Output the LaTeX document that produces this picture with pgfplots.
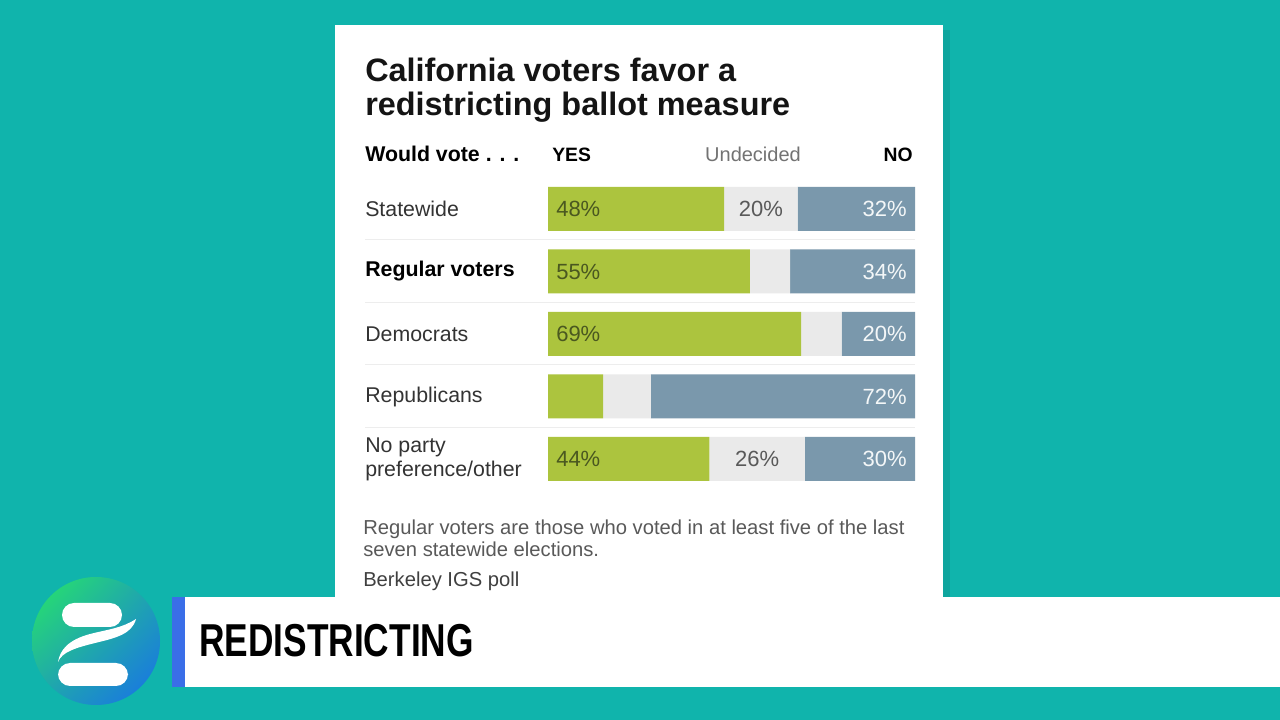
\documentclass[border=0pt]{standalone}
\usepackage{fontspec}
\setmainfont{Liberation Sans}
\usepackage{graphicx}
\usepackage{pgfplots}
\pgfplotsset{compat=1.18}
\usetikzlibrary{shadings}

\definecolor{bgteal}{RGB}{16,180,172}
\definecolor{yesgreen}{RGB}{172,196,62}
\definecolor{undgray}{RGB}{234,234,234}
\definecolor{noblue}{RGB}{122,152,172}
\definecolor{yestext}{RGB}{74,88,32}
\definecolor{stripe}{RGB}{58,110,232}
\definecolor{logogreen}{RGB}{40,232,100}
\definecolor{logoblue}{RGB}{24,110,236}

% 1 px of the reference = 0.75pt
\pgfplotsset{
  rowaxis/.style={
    at={(411pt,406.6875pt)}, anchor=north west,
    scale only axis, width=275.25pt, height=234.375pt,
    xmin=0, xmax=100, ymin=-0.5, ymax=4.5, y dir=reverse,
  },
}

\begin{document}
\begin{tikzpicture}
\begin{scope}[x=0.75pt,y=0.75pt]
  % background and card
  \fill[bgteal] (0,0) rectangle (1280,720);
  \fill[black,opacity=0.08] (341,118) rectangle (950,690);
  \fill[white] (335,120) rectangle (943,695);
  % title
  \node[anchor=base west, inner sep=0, text=black!92,
        font=\fontsize{24.3}{29}\selectfont\bfseries] at (365,638) {California voters favor a};
  \node[anchor=base west, inner sep=0, text=black!92,
        font=\fontsize{24.3}{29}\selectfont\bfseries] at (365,604) {redistricting ballot measure};
  % column heads
  \node[anchor=base west, inner sep=0, font=\fontsize{16}{18}\selectfont\bfseries] at (365,558) {Would vote . . .};
  \node[anchor=base west, inner sep=0, font=\fontsize{14.5}{16}\selectfont\bfseries] at (552,558) {YES};
  \node[anchor=base, inner sep=0, text=black!55, font=\fontsize{15}{17}\selectfont] at (753,558) {Undecided};
  \node[anchor=base east, inner sep=0, font=\fontsize{14.5}{16}\selectfont\bfseries] at (913,558) {NO};
  % row rules
  \foreach \yy in {480,417.5,355,292.5}
    \draw[black!7, line width=0.75pt] (365,\yy) -- (915,\yy);
  % notes
  \node[anchor=base west, inner sep=0, text=black!65, font=\fontsize{15.15}{17}\selectfont] at (363,185)
    {Regular voters are those who voted in at least five of the last};
  \node[anchor=base west, inner sep=0, text=black!65, font=\fontsize{15.15}{17}\selectfont] at (363,163)
    {seven statewide elections.};
  \node[anchor=base west, inner sep=0, text=black!75, font=\fontsize{15.15}{17}\selectfont] at (363,133)
    {Berkeley IGS poll};
\end{scope}

\begin{axis}[
  rowaxis,
  xbar stacked,
  bar width=33pt,
  axis line style={draw=none},
  xtick=\empty,
  ytick={0,1,2,3,4},
  yticklabels={Statewide, {\bfseries\color{black}Regular voters}, Democrats, Republicans, {No party\\preference/other}},
  yticklabel style={anchor=west, xshift=-137.25pt, inner sep=0pt, align=left,
    font=\fontsize{16}{18}\selectfont, text=black!80},
  major tick length=0pt,
]
\addplot[fill=yesgreen, draw=none] coordinates {(48,0) (55,1) (69,2) (15,3) (44,4)};
\addplot[fill=undgray, draw=none] coordinates {(20,0) (11,1) (11,2) (13,3) (26,4)};
\addplot[fill=noblue, draw=none] coordinates {(32,0) (34,1) (20,2) (72,3) (30,4)};
\end{axis}

\begin{axis}[
  rowaxis,
  hide axis, clip=false,
  point meta=explicit symbolic,
  nodes near coords,
]
\addplot[draw=none, mark=none, nodes near coords style={anchor=west, xshift=6pt, inner sep=0pt,
  text=yestext, font=\fontsize{16.5}{18}\selectfont}]
  coordinates {(0,0) [48\%] (0,1) [55\%] (0,2) [69\%] (0,4) [44\%]};
\addplot[draw=none, mark=none, nodes near coords style={anchor=center, inner sep=0pt,
  text=black!65, font=\fontsize{16.5}{18}\selectfont}]
  coordinates {(58,0) [20\%] (57,4) [26\%]};
\addplot[draw=none, mark=none, nodes near coords style={anchor=east, xshift=-6pt, inner sep=0pt,
  text=white!92!noblue, font=\fontsize{16.5}{18}\selectfont}]
  coordinates {(100,0) [32\%] (100,1) [34\%] (100,2) [20\%] (100,3) [72\%] (100,4) [30\%]};
\end{axis}

\begin{scope}[x=0.75pt,y=0.75pt]
  % lower banner
  \fill[white] (185,33) rectangle (1280,123);
  \fill[stripe] (172,33) rectangle (185,123);
  \node[anchor=base west, inner sep=0] at (199,63)
    {\scalebox{0.765}[1]{\fontsize{34.6}{40}\selectfont\bfseries REDISTRICTING}};
  % logo
  \shade[upper left=logogreen, upper right=logogreen!45!logoblue,
         lower left=logogreen!45!logoblue, lower right=logoblue] (96,79) circle (64);
  \fill[white, rounded corners=9pt] (62,117) rectangle (122,93);
  \fill[white] (136,101) .. controls (132,86) and (116,82) .. (95,77)
     .. controls (75,72) and (62,68) .. (58,58)
     .. controls (60,70) and (68,80) .. (90,86)
     .. controls (110,91) and (122,92) .. (136,101) -- cycle;
  \fill[white, rounded corners=9pt] (58,57) rectangle (128,34);
\end{scope}
\end{tikzpicture}
\end{document}
